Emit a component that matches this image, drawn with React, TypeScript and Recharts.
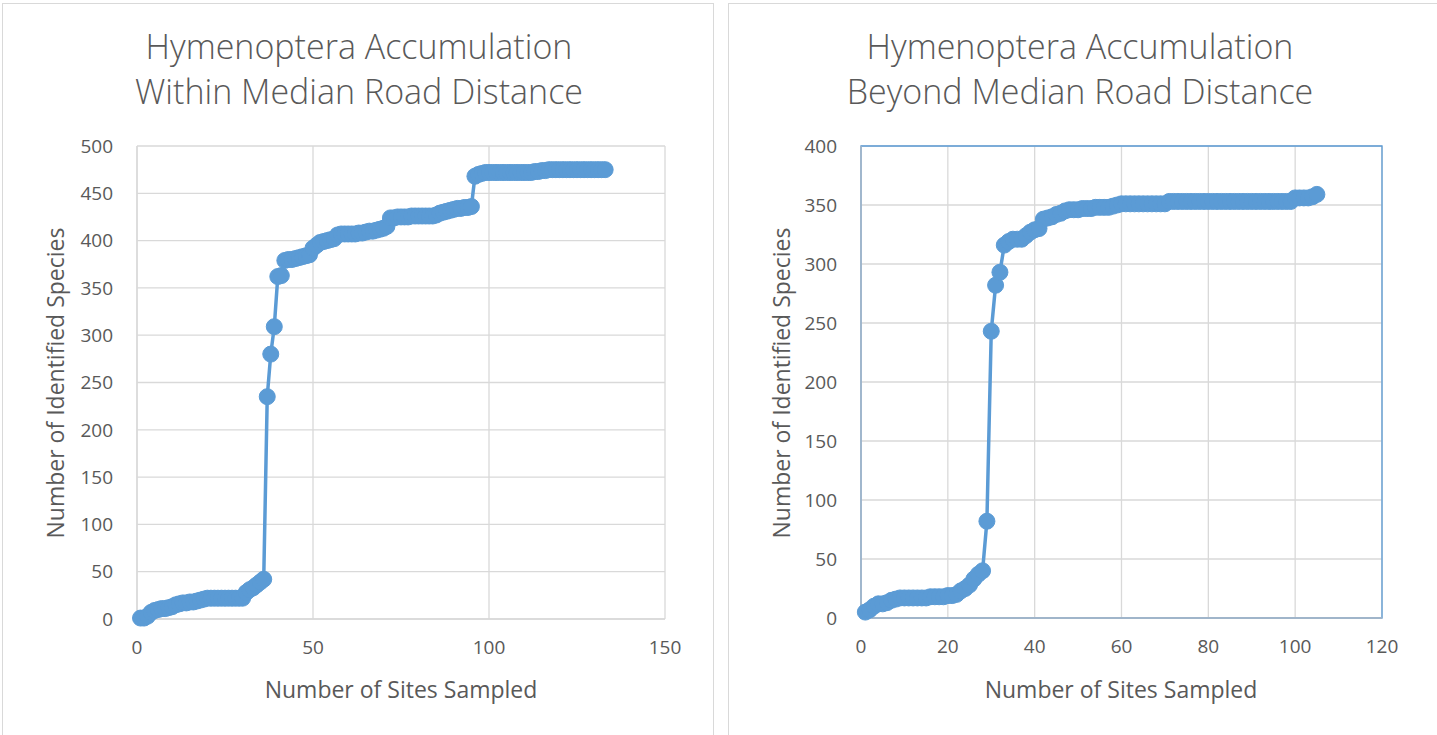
import React from 'react';
import {
  LineChart,
  Line,
  XAxis,
  YAxis,
  CartesianGrid,
  ReferenceArea,
} from 'recharts';

// Cumulative species counts, one value per site sampled (site 1, 2, 3, ...)
const withinSpecies = [
  1, 1, 3, 7, 9, 10, 11, 11, 12, 13,
  15, 16, 17, 17, 18, 18, 19, 20, 21, 22,
  22, 22, 22, 22, 22, 22, 22, 22, 22, 22,
  28, 31, 33, 36, 39, 42, 235, 280, 309, 362,
  363, 379, 380, 380, 381, 382, 383, 384, 385, 392,
  395, 398, 399, 400, 401, 402, 406, 407, 407, 407,
  407, 407, 408, 408, 409, 410, 410, 411, 412, 413,
  415, 424, 424, 425, 425, 425, 425, 426, 426, 426,
  426, 426, 426, 426, 427, 429, 430, 431, 432, 433,
  434, 434, 435, 435, 436, 468, 470, 471, 472, 472,
  472, 472, 472, 472, 472, 472, 472, 472, 472, 472,
  472, 472, 473, 473, 474, 474, 475, 475, 475, 475,
  475, 475, 475, 475, 475, 475, 475, 475, 475, 475,
  475, 475, 475,
];

const beyondSpecies = [
  5, 7, 10, 12, 12, 13, 15, 16, 17, 17,
  17, 17, 17, 17, 17, 18, 18, 18, 18, 19,
  19, 20, 23, 25, 28, 33, 37, 40, 82, 243,
  282, 293, 316, 319, 321, 321, 321, 324, 327, 329,
  330, 338, 339, 340, 342, 343, 345, 346, 346, 346,
  347, 347, 347, 348, 348, 348, 348, 349, 350, 351,
  351, 351, 351, 351, 351, 351, 351, 351, 351, 351,
  353, 353, 353, 353, 353, 353, 353, 353, 353, 353,
  353, 353, 353, 353, 353, 353, 353, 353, 353, 353,
  353, 353, 353, 353, 353, 353, 353, 353, 353, 356,
  356, 356, 356, 357, 359,
];

const withinXTicks = [0, 50, 100, 150];
const withinYTicks = [0, 50, 100, 150, 200, 250, 300, 350, 400, 450, 500];
const beyondXTicks = [0, 20, 40, 60, 80, 100, 120];
const beyondYTicks = [0, 50, 100, 150, 200, 250, 300, 350, 400];

const BLUE = '#5B9BD5';
const GRID = '#d9d9d9';
const TEXT = '#595959';
const FONT = '"Open Sans", "Liberation Sans", sans-serif';

const toPoints = (values: number[]) => values.map((species, i) => ({ sites: i + 1, species }));

const tickStyle = { fill: TEXT, fontSize: 19, fontFamily: FONT };

interface AccumulationProps {
  data: { sites: number; species: number }[];
  xTicks: number[];
  yTicks: number[];
  width: number;
  height: number;
  yAxisWidth: number;
  margin: { top: number; right: number; bottom: number };
  framed?: boolean;
}

function Accumulation({ data, xTicks, yTicks, width, height, yAxisWidth, margin, framed }: AccumulationProps) {
  const xMax = xTicks[xTicks.length - 1];
  const yMax = yTicks[yTicks.length - 1];
  return (
    <LineChart
      width={width}
      height={height}
      data={data}
      margin={{ top: margin.top, right: margin.right, left: 0, bottom: 0 }}
    >
      <CartesianGrid stroke={GRID} strokeWidth={1.3} />
      {framed && (
        <ReferenceArea x1={0} x2={xMax} y1={0} y2={yMax} fill="none" stroke={BLUE} strokeWidth={1.3} />
      )}
      <XAxis
        type="number"
        dataKey="sites"
        domain={[0, xMax]}
        ticks={xTicks}
        interval={0}
        height={margin.bottom}
        tickLine={false}
        tickSize={0}
        tickMargin={22}
        axisLine={{ stroke: framed ? '#adb9c6' : GRID, strokeWidth: 1.3 }}
        tick={tickStyle}
      />
      <YAxis
        type="number"
        domain={[0, yMax]}
        ticks={yTicks}
        interval={0}
        width={yAxisWidth}
        tickLine={false}
        tickSize={0}
        tickMargin={24}
        axisLine={{ stroke: framed ? '#adb9c6' : GRID, strokeWidth: 1.3 }}
        tick={tickStyle}
      />
      <Line
        type="linear"
        dataKey="species"
        stroke={BLUE}
        strokeWidth={3.5}
        dot={{ r: 8, fill: BLUE, stroke: BLUE, strokeWidth: 1 }}
        isAnimationActive={false}
      />
    </LineChart>
  );
}

const abs = (style: React.CSSProperties): React.CSSProperties => ({ position: 'absolute', ...style });

function Title({ cx, lines }: { cx: number; lines: string[] }) {
  return (
    <div
      style={abs({
        left: cx - 300,
        top: 24,
        width: 600,
        textAlign: 'center',
        fontFamily: FONT,
        fontWeight: 300,
        fontSize: 34,
        lineHeight: '45px',
        color: TEXT,
        whiteSpace: 'nowrap',
      })}
    >
      {lines.map((l) => (
        <div key={l}>{l}</div>
      ))}
    </div>
  );
}

function AxisTitles({ xCx, yCx }: { xCx: number; yCx: number }) {
  const common: React.CSSProperties = {
    fontFamily: FONT,
    fontSize: 23,
    fontWeight: 400,
    color: TEXT,
    whiteSpace: 'nowrap',
    textAlign: 'center',
    width: 400,
    lineHeight: '28px',
  };
  return (
    <>
      <div style={abs({ ...common, left: xCx - 200, top: 675 })}>Number of Sites Sampled</div>
      <div
        style={abs({
          ...common,
          left: yCx - 200,
          top: 383 - 14,
          transform: 'rotate(-90deg)',
          transformOrigin: '200px 14px',
        })}
      >
        Number of Identified Species
      </div>
    </>
  );
}

export default function App() {
  return (
    <div style={abs({ left: 0, top: 0, width: 1437, height: 735, background: '#fff', overflow: 'hidden' })}>
      <div style={abs({ left: 2, top: 3, width: 712, height: 800, border: `1px solid ${GRID}`, boxSizing: 'border-box' })} />
      <div style={abs({ left: 728, top: 3, width: 760, height: 800, border: `1px solid ${GRID}`, boxSizing: 'border-box' })} />

      <div style={abs({ left: 0, top: 0 })}>
        <Accumulation
          data={toPoints(withinSpecies)}
          xTicks={withinXTicks}
          yTicks={withinYTicks}
          width={713}
          height={735}
          yAxisWidth={137}
          margin={{ top: 146, right: 48, bottom: 116 }}
        />
      </div>
      <div style={abs({ left: 728, top: 0 })}>
        <Accumulation
          data={toPoints(beyondSpecies)}
          xTicks={beyondXTicks}
          yTicks={beyondYTicks}
          width={709}
          height={735}
          yAxisWidth={133}
          margin={{ top: 146, right: 55, bottom: 117 }}
          framed
        />
      </div>

      <Title cx={359} lines={['Hymenoptera Accumulation', 'Within Median Road Distance']} />
      <Title cx={1080} lines={['Hymenoptera Accumulation', 'Beyond Median Road Distance']} />
      <AxisTitles xCx={401} yCx={55} />
      <AxisTitles xCx={1121} yCx={781} />
    </div>
  );
}
